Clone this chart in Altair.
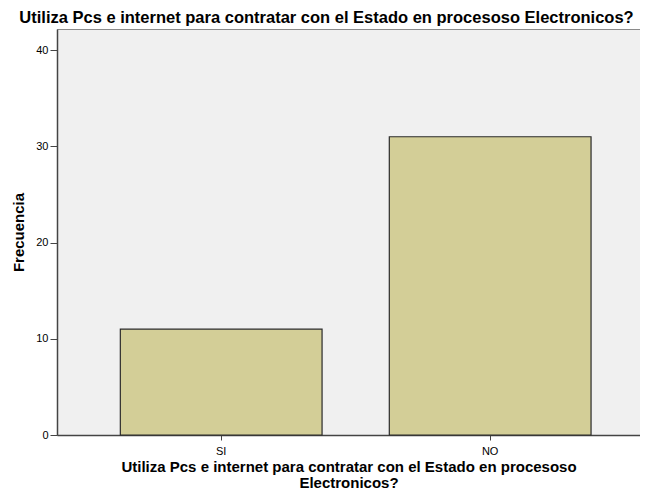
import altair as alt
import pandas as pd

categories = ["SI", "NO"]
frecuencia = [11, 31]

title_text = "Utiliza Pcs e internet para contratar con el Estado en procesoso Electronicos?"
x_title = ["Utiliza Pcs e internet para contratar con el Estado en procesoso", "Electronicos?"]
y_title = "Frecuencia"
y_ticks = [0, 10, 20, 30, 40]

df = pd.DataFrame({"cat": categories, "freq": frecuencia})

FONT = "Liberation Sans"

chart = alt.Chart(df).mark_bar(
    color="#D3CE97", stroke="#2b2b2b", strokeWidth=1.2
).encode(
    x=alt.X("cat:N", sort=categories, title=x_title,
            scale=alt.Scale(paddingInner=0.25, paddingOuter=0.2087, align=0.564),
            axis=alt.Axis(labelAngle=0, labelFontSize=11, labelFont=FONT, labelColor="#000",
                          tickSize=5, tickColor="#444", labelPadding=5,
                          domainColor="#444", domainWidth=1.5,
                          titleFont=FONT, titleFontSize=15, titleFontWeight="bold",
                          titleColor="#000", titleLineHeight=16, titlePadding=3)),
    y=alt.Y("freq:Q", title=y_title,
            scale=alt.Scale(domain=[0, 42.2], nice=False),
            axis=alt.Axis(values=y_ticks, grid=False, labelFontSize=11, labelFont=FONT,
                          labelColor="#000", tickSize=7, tickColor="#444", labelPadding=2,
                          domainColor="#444", domainWidth=1.5,
                          titleFont=FONT, titleFontSize=15, titleFontWeight="bold",
                          titleColor="#000", titlePadding=9)),
).properties(
    width=583, height=406,
    title=alt.TitleParams(title_text, font=FONT, fontSize=16.5, fontWeight="bold",
                          color="#000", anchor="middle", frame="group", dx=-22, offset=3),
    autosize=alt.AutoSizeParams(type="none"),
    padding={"left": 49, "top": 21, "right": 0, "bottom": 56},
).configure(
    background="#ffffff"
).configure_view(
    fill="#F0F0F0", stroke="#8a8a8a", strokeWidth=1
)

chart.save("out.html", embed_options={"renderer": "svg", "actions": False})
